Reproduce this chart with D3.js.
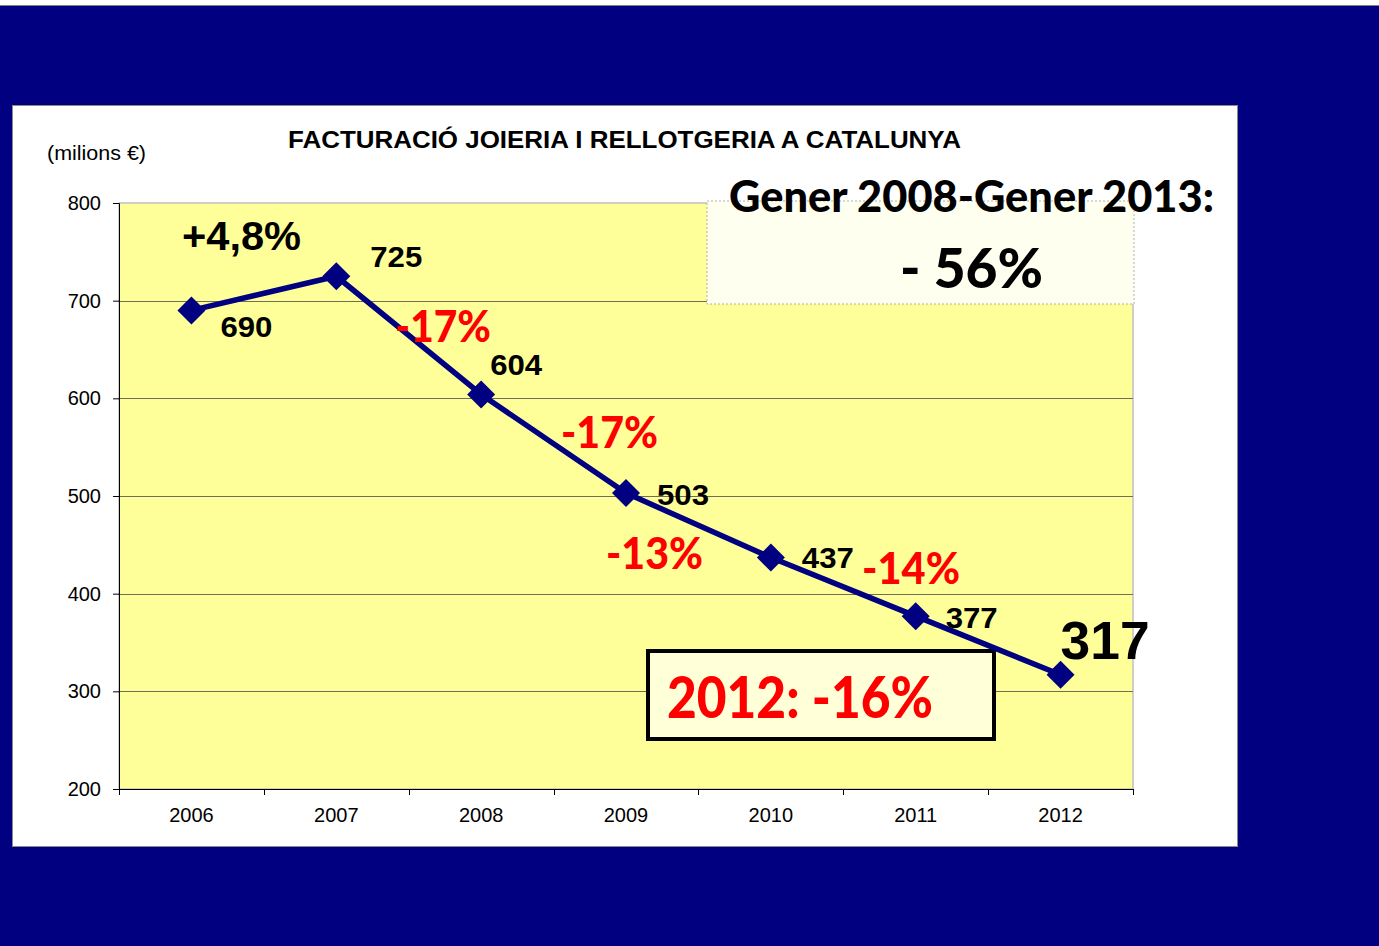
<!DOCTYPE html>
<html>
<head>
<meta charset="utf-8">
<script src="https://cdn.jsdelivr.net/npm/d3@7"></script>
<style>
  html, body { margin: 0; padding: 0; background: #000080; }
  svg { display: block; }
</style>
</head>
<body>
<svg id="chart" width="1379" height="946"></svg>
<script>
// ---- data ----
const years = ["2006", "2007", "2008", "2009", "2010", "2011", "2012"];
const revenue = [690, 725, 604, 503, 437, 377, 317];
const valueLabels = ["690", "725", "604", "503", "437", "377", "317"];
const yTicks = [200, 300, 400, 500, 600, 700, 800];
const changeLabels = ["+4,8%", "-17%", "-17%", "-13%", "-14%"];
const titleText = "FACTURACIÓ JOIERIA I RELLOTGERIA A CATALUNYA";
const unitText = "(milions €)";
const periodText = "Gener 2008-Gener 2013:";
const periodValue = "- 56%";
const lastYearText = "2012: -16%";

// ---- layout ----
const W = 1379, H = 946;
const plot = { left: 119, right: 1133, top: 203, bottom: 789 };
const svg = d3.select("#chart");

const x = d3.scaleBand().domain(years).range([plot.left, plot.right]);
const y = d3.scaleLinear().domain([200, 800]).range([plot.bottom, plot.top]);

// background
svg.append("rect").attr("x", 0).attr("y", 0).attr("width", W).attr("height", H).attr("fill", "#000080");
svg.append("rect").attr("x", 0).attr("y", 0).attr("width", W).attr("height", 5).attr("fill", "#ffffff");
svg.append("line").attr("x1", 0).attr("x2", W).attr("y1", 5.5).attr("y2", 5.5).attr("stroke", "#808080");

// white panel
svg.append("rect").attr("x", 12.5).attr("y", 105.5).attr("width", 1225).attr("height", 741)
  .attr("fill", "#ffffff").attr("stroke", "#8a8a8a").attr("stroke-width", 1);

// plot area
svg.append("rect").attr("x", plot.left).attr("y", plot.top)
  .attr("width", plot.right - plot.left).attr("height", plot.bottom - plot.top)
  .attr("fill", "#ffff99").attr("stroke", "#c0c0c0").attr("stroke-width", 1.5);

// gridlines
svg.append("g").selectAll("line").data(yTicks.filter(d => d > 200 && d < 800)).join("line")
  .attr("x1", plot.left).attr("x2", plot.right)
  .attr("y1", d => Math.round(y(d)) + 0.5).attr("y2", d => Math.round(y(d)) + 0.5)
  .attr("stroke", "#6e6e5a").attr("stroke-width", 1);

// y axis
const yAxis = d3.axisLeft(y).tickValues(yTicks).tickSize(6).tickPadding(12).tickFormat(d3.format("d"));
const gy = svg.append("g").attr("transform", `translate(${plot.left},0)`).call(yAxis);
gy.select(".domain").attr("stroke", "#000");
gy.selectAll(".tick line").attr("stroke", "#000");
gy.selectAll("text").attr("font-family", "'Liberation Sans', Arial, sans-serif")
  .attr("font-size", 20).attr("fill", "#000");

// x axis (ticks at band boundaries)
const xAxisG = svg.append("g").attr("transform", `translate(0,${plot.bottom})`);
xAxisG.append("line").attr("x1", plot.left).attr("x2", plot.right).attr("y1", 0.5).attr("y2", 0.5).attr("stroke", "#000");
const boundaries = years.map(d => x(d)).concat([x(years[years.length - 1]) + x.bandwidth()]);
xAxisG.selectAll("line.tk").data(boundaries).join("line").attr("class", "tk")
  .attr("x1", d => Math.round(d) + 0.5).attr("x2", d => Math.round(d) + 0.5)
  .attr("y1", 0).attr("y2", 6).attr("stroke", "#000");
xAxisG.selectAll("text").data(years).join("text")
  .attr("x", d => x(d) + x.bandwidth() / 2).attr("y", 33)
  .attr("text-anchor", "middle")
  .attr("font-family", "'Liberation Sans', Arial, sans-serif").attr("font-size", 20).attr("fill", "#000")
  .text(d => d);

// helper for text: left x, width, visual centre y
function label(g, x0, w, cy, txt, size, opts = {}) {
  const capRatio = opts.capRatio || 0.72;
  return g.append("text")
    .attr("x", x0).attr("y", cy + capRatio * size / 2)
    .attr("text-anchor", "start")
    .attr("font-family", opts.family || "'Liberation Sans', Arial, sans-serif")
    .attr("font-weight", opts.weight || "bold")
    .attr("font-size", size)
    .attr("fill", opts.color || "#000")
    .attr("textLength", w).attr("lengthAdjust", "spacingAndGlyphs")
    .text(txt);
}

const ann = svg.append("g");
// title and unit
label(ann, 288, 673, 140, titleText, 23);
label(ann, 47, 99, 153, unitText, 20, { weight: "normal" });

// "2012: -16%" box (behind the line)
ann.append("rect").attr("x", 648).attr("y", 651).attr("width", 346).attr("height", 88)
  .attr("fill", "#ffffd8").attr("stroke", "#000").attr("stroke-width", 4);
label(ann, 667, 266, 697, lastYearText, 58, { family: "Lato, 'Open Sans', sans-serif", color: "#ff0000", weight: 900 });

// period box
ann.append("rect").attr("x", 707).attr("y", 201).attr("width", 427).attr("height", 103)
  .attr("fill", "#fffff0").attr("stroke", "#b0b0b0").attr("stroke-width", 1).attr("stroke-dasharray", "2,2");
label(ann, 729, 485, 197, periodText, 43, { family: "Lato, 'Open Sans', sans-serif", weight: 900 });
label(ann, 900, 143, 268, periodValue, 56, { family: "Lato, 'Open Sans', sans-serif", weight: 900 });

// series line
const pts = years.map((d, i) => [x(d) + x.bandwidth() / 2, y(revenue[i])]);
svg.append("path").attr("d", d3.line()(pts)).attr("fill", "none")
  .attr("stroke", "#000080").attr("stroke-width", 5.5).attr("stroke-linejoin", "round");
svg.append("g").selectAll("path").data(pts).join("path")
  .attr("transform", d => `translate(${d[0]},${d[1]})`)
  .attr("d", "M0,-14L14,0L0,14L-14,0Z").attr("fill", "#000080");

// value labels (offset from points)
const valueOffsets = [[29, 16], [34, -20], [9, -30], [31, 1], [31, 0], [30, 1], [0, -35]];
const lg = svg.append("g");
pts.forEach((p, i) => {
  const big = i === pts.length - 1;
  label(lg, p[0] + valueOffsets[i][0], big ? 89 : 52, p[1] + valueOffsets[i][1], valueLabels[i], big ? 53 : 29);
});

// change labels
const changePos = [[182, 119, 235], [395, 96, 326], [561, 97, 432], [606, 97, 553], [862, 98, 568]];
changeLabels.forEach((t, i) => {
  const [cx, w, cy] = changePos[i];
  if (i === 0) label(lg, cx, w, cy, t, 41);
  else label(lg, cx, w, cy, t, 44, { family: "Lato, 'Open Sans', sans-serif", color: "#ff0000", weight: 900 });
});
</script>
</body>
</html>
